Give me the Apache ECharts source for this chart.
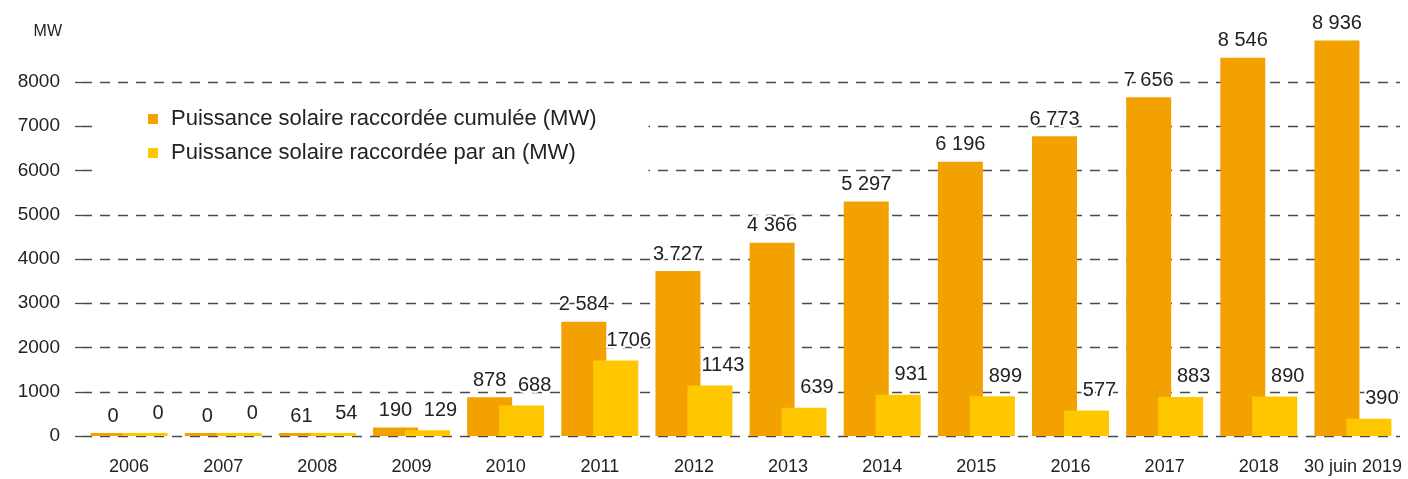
<!DOCTYPE html>
<html>
<head>
<meta charset="utf-8">
<script src="https://cdn.jsdelivr.net/npm/echarts@6/dist/echarts.min.js"></script>
<style>
  html, body { margin: 0; padding: 0; background: #fff; }
  #chart { width: 1408px; height: 479px; }
</style>
</head>
<body>
<div id="chart"></div>
<script>
// données
const categories = ['2006', '2007', '2008', '2009', '2010', '2011', '2012', '2013', '2014', '2015', '2016', '2017', '2018', '30 juin 2019']
const cumulValues = [0, 0, 61, 190, 878, 2584, 3727, 4366, 5297, 6196, 6773, 7656, 8546, 8936]
const annuelValues = [0, 0, 54, 129, 688, 1706, 1143, 639, 931, 899, 577, 883, 890, 390]
const yTicks = [0, 1000, 2000, 3000, 4000, 5000, 6000, 7000, 8000]

const font = "'Liberation Sans', Arial, sans-serif"
const gridColor = '#4a4a4a'

// séparateur de milliers avec espace : 8936 -> 8 936
function withSpace(v) {
  return String(v).replace(/\B(?=(\d{3})+(?!\d))/g, ' ')
}

const chart = echarts.init(document.getElementById('chart'))

const option = {
  backgroundColor: '#fff',
  animation: false,
  grid: { left: 82, right: 8, top: 82, bottom: 43 },
  legend: {
    orient: 'vertical',
    left: 100,
    top: 96,
    padding: [12, 52, 12, 48],
    backgroundColor: '#fff',
    itemWidth: 10,
    itemHeight: 10,
    itemGap: 12,
    icon: 'rect',
    textStyle: {
      fontFamily: font,
      fontSize: 22,
      color: '#222',
      padding: [0, 0, 0, 8]
    },
    data: ['Puissance solaire raccordée cumulée (MW)', 'Puissance solaire raccordée par an (MW)']
  },
  xAxis: {
    type: 'category',
    data: categories,
    axisLine: { show: false },
    axisTick: { show: false },
    axisLabel: {
      interval: 0,
      margin: 22,
      fontFamily: font,
      fontSize: 18,
      color: '#222'
    }
  },
  yAxis: {
    type: 'value',
    min: yTicks[0],
    max: yTicks[yTicks.length - 1],
    interval: 1000,
    name: 'MW',
    nameLocation: 'end',
    nameGap: 42,
    nameTextStyle: {
      fontFamily: font,
      fontSize: 16,
      color: '#222',
      align: 'right',
      padding: [0, 20, 0, 0]
    },
    axisLine: { show: false },
    axisTick: {
      show: true,
      length: 7,
      lineStyle: { color: gridColor, width: 1.3 }
    },
    axisLabel: {
      margin: 22,
      fontFamily: font,
      fontSize: 19,
      color: '#222',
      padding: [10, 0, 0, 0],
      formatter: v => String(v)
    },
    splitLine: {
      lineStyle: { color: gridColor, width: 1.3, type: [10, 8] }
    }
  },
  series: [
    {
      name: 'Puissance solaire raccordée cumulée (MW)',
      type: 'bar',
      data: cumulValues,
      barWidth: 45,
      barGap: '-29%',
      barMinHeight: 3,
      clip: false,
      itemStyle: { color: '#F2A100' },
      label: {
        show: true,
        position: 'top',
        distance: 7,
        fontFamily: font,
        fontSize: 20,
        color: '#222',
        textBorderColor: '#fff',
        textBorderWidth: 4,
        formatter: p => withSpace(p.value)
      }
    },
    {
      name: 'Puissance solaire raccordée par an (MW)',
      type: 'bar',
      data: annuelValues,
      barWidth: 45,
      barMinHeight: 3,
      itemStyle: { color: '#FFC700' },
      label: {
        show: true,
        position: 'top',
        distance: 10,
        offset: [13, 0],
        fontFamily: font,
        fontSize: 20,
        color: '#222',
        textBorderColor: '#fff',
        textBorderWidth: 4
      }
    }
  ]
}

chart.setOption(option)
</script>
</body>
</html>
